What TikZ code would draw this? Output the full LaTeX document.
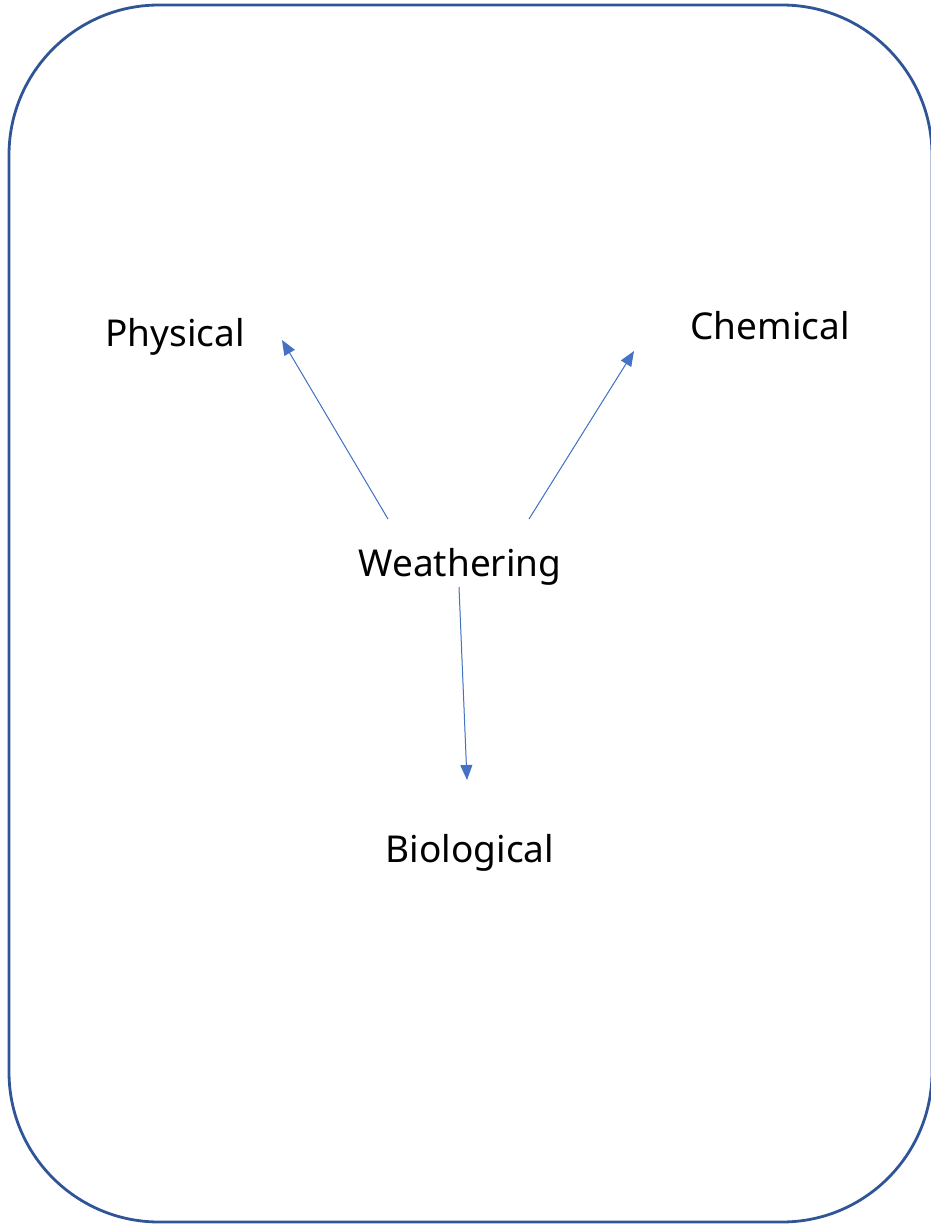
\documentclass[tikz,border=0pt]{standalone}
\usepackage{fontspec}
\setmainfont{Noto Sans}
\usetikzlibrary{arrows.meta}
\definecolor{boxblue}{HTML}{2F5597}
\definecolor{arrblue}{HTML}{4472C4}
\tikzset{
  lbl/.style={inner sep=0pt, font=\fontsize{37}{42}\selectfont, text=black},
  conn/.style={draw=arrblue, line width=1pt, -{Triangle[length=15pt,width=12pt]}, fill=arrblue}
}
\begin{document}
\begin{tikzpicture}[x=1pt,y=-1pt]
\useasboundingbox (0,0) rectangle (931,1226);
\draw[boxblue, line width=2.8pt, rounded corners=150pt] (9,5) rectangle (932,1222);
\node[lbl] (phys) at (175,337) {Physical};
\node[lbl] (chem) at (770,326) {Chemical};
\node[lbl] (weath) at (460,567) {Weathering};
\node[lbl] (bio) at (470,853) {Biological};
\coordinate (ps) at (388,519);
\coordinate (pe) at (282,340);
\coordinate (cs) at (529,519);
\coordinate (ce) at (634,351);
\coordinate (bs) at (459,587);
\coordinate (be) at (467,780);
\draw[conn] (ps) -- (pe);
\draw[conn] (cs) -- (ce);
\draw[conn] (bs) -- (be);
\end{tikzpicture}
\end{document}
